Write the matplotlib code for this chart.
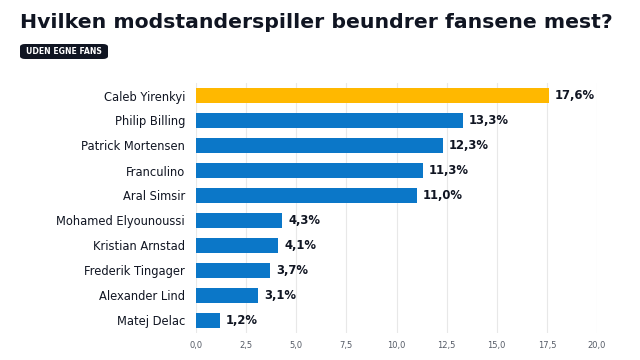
import matplotlib.pyplot as plt
from matplotlib.patches import FancyBboxPatch

players = ['Caleb Yirenkyi', 'Philip Billing', 'Patrick Mortensen', 'Franculino',
           'Aral Simsir', 'Mohamed Elyounoussi', 'Kristian Arnstad',
           'Frederik Tingager', 'Alexander Lind', 'Matej Delac']
shares = [17.6, 13.3, 12.3, 11.3, 11.0, 4.3, 4.1, 3.7, 3.1, 1.2]
ticks = [0, 2.5, 5, 7.5, 10, 12.5, 15, 17.5, 20]

blue = '#0b77c8'
gold = '#ffb800'
dark = '#101522'

fig = plt.figure(figsize=(6.4, 3.6), dpi=100)
ax = fig.add_axes([196 / 640, 27 / 360, 401 / 640, 250 / 360])

ypos = list(range(len(players)))[::-1]
cols = [gold] + [blue] * (len(players) - 1)
ax.barh(ypos, shares, height=0.6, color=cols, zorder=2)
for y, v in zip(ypos, shares):
    ax.text(v + 0.3, y, f'{v:.1f}%'.replace('.', ','), va='center', ha='left',
            fontsize=8.4, fontweight='bold', color=dark)

ax.set_xlim(0, 20)
ax.set_ylim(-0.5, len(players) - 0.5)
ax.set_yticks(ypos)
ax.set_yticklabels(players, fontsize=8.3, color=dark)
ax.set_xticks(ticks)
ax.set_xticklabels([f'{t:.1f}'.replace('.', ',') for t in ticks], fontsize=6, color='#555b66')
ax.tick_params(axis='x', length=0, pad=6)
ax.tick_params(axis='y', length=0, pad=8)
ax.grid(axis='x', color='#e8e8e8', linewidth=0.8, zorder=0)
for s in ax.spines.values():
    s.set_visible(False)

fig.text(20 / 640, 1 - 23 / 360, 'Hvilken modstanderspiller beundrer fansene mest?',
         fontsize=14.7, fontweight='bold', color=dark, va='center', ha='left')
badge = FancyBboxPatch((20 / 640, 1 - 59 / 360), 88 / 640, 15 / 360,
                       boxstyle='round,pad=0,rounding_size=0.008',
                       transform=fig.transFigure, facecolor=dark, edgecolor='none')
fig.patches.append(badge)
fig.text(64 / 640, 1 - 51.5 / 360, 'UDEN EGNE FANS', fontsize=5.6, fontweight='bold',
         color='white', va='center', ha='center')

fig.savefig('out.png', dpi=100)
